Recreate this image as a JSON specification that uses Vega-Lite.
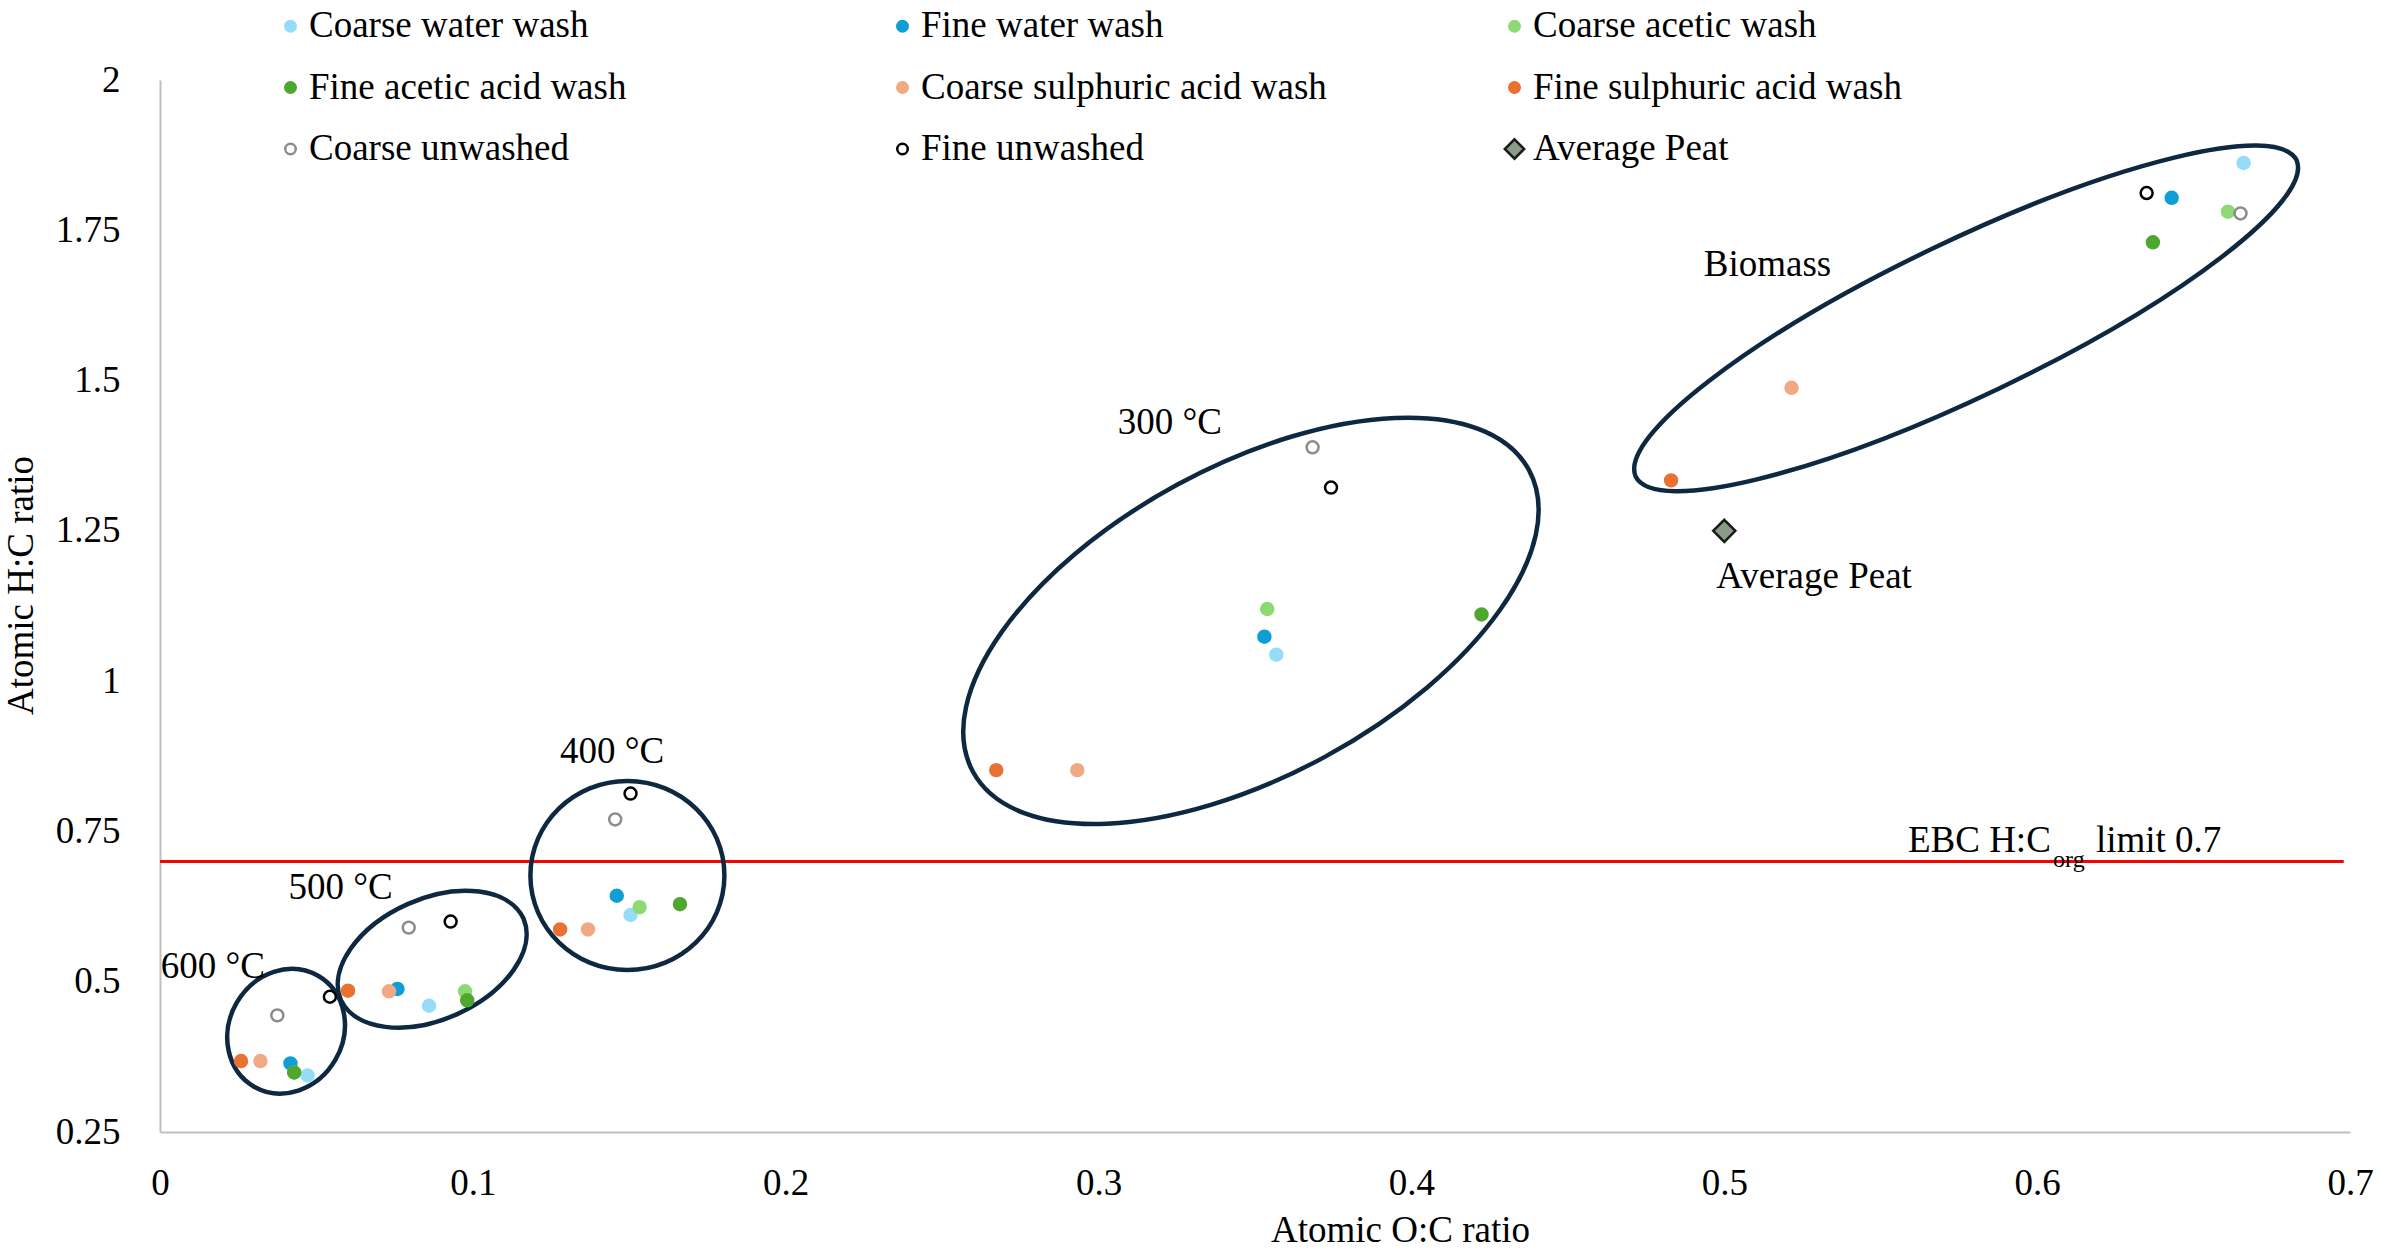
{
  "$schema": "https://vega.github.io/schema/vega-lite/v6.json",
  "width": 2190,
  "height": 1052,
  "autosize": {"type": "none"},
  "padding": {"left": 160, "top": 80, "right": 32, "bottom": 121},
  "background": "#ffffff",
  "config": {
    "view": {"stroke": null},
    "font": "Liberation Serif",
    "axis": {
      "grid": false, "ticks": false, "tickSize": 0,
      "domainColor": "#BFBFBF", "domainWidth": 2,
      "labelFont": "Liberation Serif", "labelFontSize": 37, "labelColor": "#000000",
      "titleFont": "Liberation Serif", "titleFontSize": 37, "titleFontWeight": "normal", "titleColor": "#000000",
      "labelFlush": false, "labelOverlap": false
    },
    "legend": {
      "orient": "none", "legendX": 112, "legendY": -72.5,
      "columns": 3, "gridAlign": "all", "columnPadding": 169, "rowPadding": 23.5,
      "symbolSize": 110, "symbolStrokeWidth": 2.5, "symbolOpacity": 1,
      "labelFont": "Liberation Serif", "labelFontSize": 37, "labelColor": "#000000",
      "labelOffset": 0, "labelLimit": 1000, "padding": 0
    }
  },
  "encoding": {
    "x": {
      "field": "x", "type": "quantitative",
      "scale": {"domain": [0, 0.7], "nice": false, "zero": false},
      "axis": {
        "title": "Atomic O:C ratio",
        "values": [0, 0.1, 0.2, 0.3, 0.4, 0.5, 0.6, 0.7],
        "labelExpr": "'' + datum.value", "labelPadding": 33, "labelBaseline": "top",
        "labelFont": "Liberation Serif", "labelFontSize": 37, "labelColor": "#000000",
        "titleFont": "Liberation Serif", "titleFontSize": 37, "titleFontWeight": "normal", "titleColor": "#000000",
        "titleX": 1240, "titleY": 98, "titleAlign": "center", "titleBaseline": "middle"
      }
    },
    "y": {
      "field": "y", "type": "quantitative",
      "scale": {"domain": [0.25, 2], "nice": false, "zero": false},
      "axis": {
        "title": "Atomic H:C ratio",
        "values": [0.25, 0.5, 0.75, 1, 1.25, 1.5, 1.75, 2],
        "labelExpr": "'' + datum.value", "labelPadding": 40,
        "labelFont": "Liberation Serif", "labelFontSize": 37, "labelColor": "#000000",
        "titleFont": "Liberation Serif", "titleFontSize": 37, "titleFontWeight": "normal", "titleColor": "#000000",
        "titleX": -139, "titleY": 505, "titleAngle": -90, "titleAlign": "center", "titleBaseline": "middle"
      }
    }
  },
  "layer": [
    {
      "data": {"values": [{"x": 0, "x2": 0.698, "y": 0.7}]},
      "mark": {"type": "rule", "color": "#FF0000", "strokeWidth": 3},
      "encoding": {"x2": {"field": "x2"}}
    },
    {
      "data": {"values": [{"name": "600 °C", "x": 0.0403, "y": 0.4176}]},
      "mark": {"type": "point", "shape": "M 32 -55.43 A 64 57 -60 0 1 -32 55.43 A 64 57 -60 0 1 32 -55.43 Z", "size": 4, "filled": false, "stroke": "#0E2841", "strokeWidth": 4.5, "opacity": 1},
      "encoding": {}
    },
    {
      "data": {"values": [{"name": "500 °C", "x": 0.087, "y": 0.5374}]},
      "mark": {"type": "point", "shape": "M 91.35 -40.67 A 100 61 -24 0 1 -91.35 40.67 A 100 61 -24 0 1 91.35 -40.67 Z", "size": 4, "filled": false, "stroke": "#0E2841", "strokeWidth": 4.5, "opacity": 1},
      "encoding": {}
    },
    {
      "data": {"values": [{"name": "400 °C", "x": 0.1494, "y": 0.6767}]},
      "mark": {"type": "point", "shape": "M 97 0 A 97 94.5 0 0 1 -97 0 A 97 94.5 0 0 1 97 0 Z", "size": 4, "filled": false, "stroke": "#0E2841", "strokeWidth": 4.5, "opacity": 1},
      "encoding": {}
    },
    {
      "data": {"values": [{"name": "300 °C", "x": 0.3487, "y": 1.1003}]},
      "mark": {"type": "point", "shape": "M 277.97 -150.94 A 316.3 154.8 -28.5 0 1 -277.97 150.94 A 316.3 154.8 -28.5 0 1 277.97 -150.94 Z", "size": 4, "filled": false, "stroke": "#0E2841", "strokeWidth": 4.5, "opacity": 1},
      "encoding": {}
    },
    {
      "data": {"values": [{"name": "Biomass", "x": 0.5773, "y": 1.6035}]},
      "mark": {"type": "point", "shape": "M 330.42 -158.32 A 366.4 78 -25.6 0 1 -330.42 158.32 A 366.4 78 -25.6 0 1 330.42 -158.32 Z", "size": 4, "filled": false, "stroke": "#0E2841", "strokeWidth": 4.5, "opacity": 1},
      "encoding": {}
    },
    {
      "data": {"values": [
        {"series": "Coarse water wash", "x": 0.666, "y": 1.862},
        {"series": "Coarse water wash", "x": 0.3568, "y": 1.044},
        {"series": "Coarse water wash", "x": 0.1504, "y": 0.611},
        {"series": "Coarse water wash", "x": 0.086, "y": 0.46},
        {"series": "Coarse water wash", "x": 0.0472, "y": 0.344},
        {"series": "Fine water wash", "x": 0.643, "y": 1.804},
        {"series": "Fine water wash", "x": 0.353, "y": 1.074},
        {"series": "Fine water wash", "x": 0.146, "y": 0.643},
        {"series": "Fine water wash", "x": 0.0759, "y": 0.488},
        {"series": "Fine water wash", "x": 0.0417, "y": 0.364},
        {"series": "Coarse acetic wash", "x": 0.661, "y": 1.781},
        {"series": "Coarse acetic wash", "x": 0.3539, "y": 1.12},
        {"series": "Coarse acetic wash", "x": 0.1533, "y": 0.624},
        {"series": "Coarse acetic wash", "x": 0.0975, "y": 0.484},
        {"series": "Coarse acetic wash", "x": 0.0429, "y": 0.349},
        {"series": "Fine acetic acid wash", "x": 0.637, "y": 1.73},
        {"series": "Fine acetic acid wash", "x": 0.4224, "y": 1.111},
        {"series": "Fine acetic acid wash", "x": 0.1662, "y": 0.629},
        {"series": "Fine acetic acid wash", "x": 0.0982, "y": 0.469},
        {"series": "Fine acetic acid wash", "x": 0.0429, "y": 0.349},
        {"series": "Coarse sulphuric acid wash", "x": 0.5215, "y": 1.488},
        {"series": "Coarse sulphuric acid wash", "x": 0.2932, "y": 0.852},
        {"series": "Coarse sulphuric acid wash", "x": 0.1368, "y": 0.587},
        {"series": "Coarse sulphuric acid wash", "x": 0.0732, "y": 0.484},
        {"series": "Coarse sulphuric acid wash", "x": 0.0321, "y": 0.368},
        {"series": "Fine sulphuric acid wash", "x": 0.483, "y": 1.334},
        {"series": "Fine sulphuric acid wash", "x": 0.2673, "y": 0.852},
        {"series": "Fine sulphuric acid wash", "x": 0.1279, "y": 0.587},
        {"series": "Fine sulphuric acid wash", "x": 0.0601, "y": 0.485},
        {"series": "Fine sulphuric acid wash", "x": 0.0259, "y": 0.368},
        {"series": "Coarse unwashed", "x": 0.665, "y": 1.778},
        {"series": "Coarse unwashed", "x": 0.3684, "y": 1.389},
        {"series": "Coarse unwashed", "x": 0.1455, "y": 0.77},
        {"series": "Coarse unwashed", "x": 0.0795, "y": 0.59},
        {"series": "Coarse unwashed", "x": 0.0375, "y": 0.444},
        {"series": "Fine unwashed", "x": 0.635, "y": 1.812},
        {"series": "Fine unwashed", "x": 0.3743, "y": 1.322},
        {"series": "Fine unwashed", "x": 0.1504, "y": 0.813},
        {"series": "Fine unwashed", "x": 0.0929, "y": 0.6},
        {"series": "Fine unwashed", "x": 0.0543, "y": 0.475},
        {"series": "Average Peat", "x": 0.5, "y": 1.25}
      ]},
      "mark": {"type": "point", "filled": true, "size": 143, "strokeWidth": 2.5, "opacity": 1},
      "encoding": {
        "fill": {
          "field": "series", "type": "nominal",
          "scale": {
            "domain": ["Coarse water wash", "Fine acetic acid wash", "Coarse unwashed", "Fine water wash", "Coarse sulphuric acid wash", "Fine unwashed", "Coarse acetic wash", "Fine sulphuric acid wash", "Average Peat"],
            "range": ["#96DCF8", "#4EA72E", "#FFFFFF", "#0F9ED5", "#F1A983", "#FFFFFF", "#8ED973", "#E97132", "#8A9C88"]
          },
          "legend": {"title": null}
        },
        "stroke": {
          "field": "series", "type": "nominal",
          "scale": {
            "domain": ["Coarse water wash", "Fine acetic acid wash", "Coarse unwashed", "Fine water wash", "Coarse sulphuric acid wash", "Fine unwashed", "Coarse acetic wash", "Fine sulphuric acid wash", "Average Peat"],
            "range": ["#96DCF8", "#4EA72E", "#8C8C8C", "#0F9ED5", "#F1A983", "#000000", "#8ED973", "#E97132", "#1A1A1A"]
          },
          "legend": {"title": null}
        },
        "shape": {
          "field": "series", "type": "nominal",
          "scale": {
            "domain": ["Coarse water wash", "Fine acetic acid wash", "Coarse unwashed", "Fine water wash", "Coarse sulphuric acid wash", "Fine unwashed", "Coarse acetic wash", "Fine sulphuric acid wash", "Average Peat"],
            "range": ["circle", "circle", "circle", "circle", "circle", "circle", "circle", "circle", "M 0 -1.85 L 1.85 0 L 0 1.85 L -1.85 0 Z"]
          },
          "legend": {"title": null}
        }
      }
    },
    {
      "data": {"values": [
        {"label": "600 °C", "x": 0.0169, "y": 0.524},
        {"label": "500 °C", "x": 0.0577, "y": 0.6556},
        {"label": "400 °C", "x": 0.1445, "y": 0.8819},
        {"label": "300 °C", "x": 0.3228, "y": 1.4293},
        {"label": "Biomass", "x": 0.5138, "y": 1.692},
        {"label": "Average Peat", "x": 0.5287, "y": 1.173}
      ]},
      "mark": {"type": "text", "font": "Liberation Serif", "fontSize": 37, "color": "#000000", "align": "center", "baseline": "middle"},
      "encoding": {"text": {"field": "label"}}
    },
    {
      "data": {"values": [
        {"label": "EBC H:C", "x": 0.5587, "y": 0.7155},
        {"label": "limit 0.7", "x": 0.6188, "y": 0.7155}
      ]},
      "mark": {"type": "text", "font": "Liberation Serif", "fontSize": 37, "color": "#000000", "align": "left", "baseline": "alphabetic"},
      "encoding": {"text": {"field": "label"}}
    },
    {
      "data": {"values": [{"label": "org", "x": 0.6051, "y": 0.6905}]},
      "mark": {"type": "text", "font": "Liberation Serif", "fontSize": 24, "color": "#000000", "align": "left", "baseline": "alphabetic"},
      "encoding": {"text": {"field": "label"}}
    }
  ]
}
